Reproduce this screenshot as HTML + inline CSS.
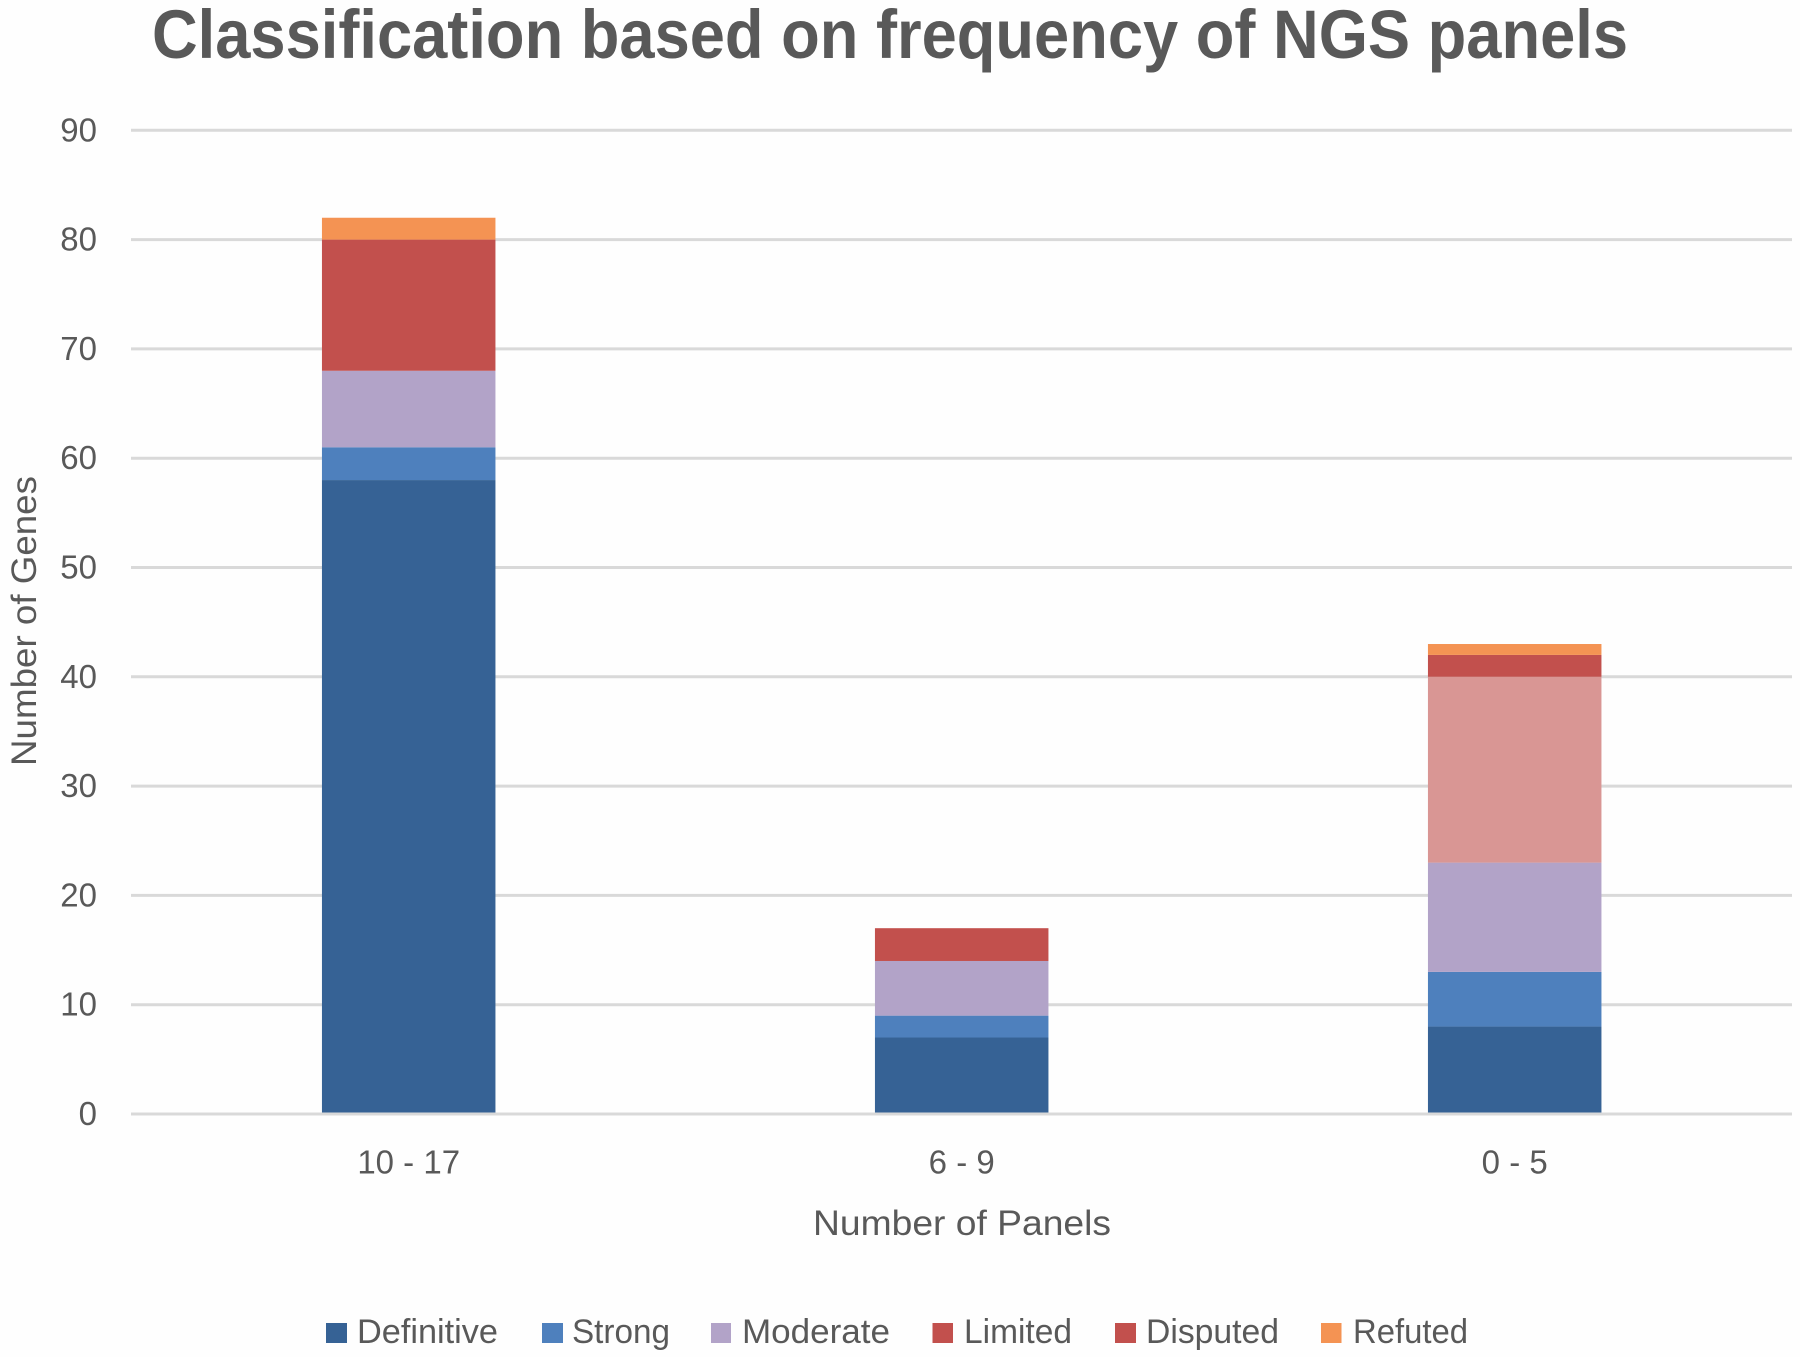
<!DOCTYPE html>
<html lang="en">
<head>
<meta charset="utf-8">
<title>Classification based on frequency of NGS panels</title>
<style>
  html, body { margin: 0; padding: 0; background: #fefefe; }
  svg { display: block; }
  text { font-family: "Liberation Sans", sans-serif; fill: #595959; }
</style>
</head>
<body>
<svg id="chart" xmlns="http://www.w3.org/2000/svg" width="1800" height="1357" viewBox="0 0 1800 1357">
  <rect x="0" y="0" width="1800" height="1357" fill="#fefefe"/>
  <text x="152" y="58" font-size="69" font-weight="700" textLength="1476" lengthAdjust="spacingAndGlyphs">Classification based on frequency of NGS panels</text>
  <g id="grid"></g>
  <g id="y-ticks"></g>
  <g id="bars"></g>
  <g id="baseline"></g>
  <g id="x-ticks"></g>
  <text x="813" y="1235" font-size="35" textLength="298" lengthAdjust="spacingAndGlyphs">Number of Panels</text>
  <text transform="translate(36,766) rotate(-90)" x="0" y="0" font-size="35" textLength="290" lengthAdjust="spacingAndGlyphs">Number of Genes</text>
  <g>
    <g>
      <rect x="326" y="1323" width="21" height="20" fill="#366295"/>
      <text x="357" y="1343" font-size="34" textLength="141" lengthAdjust="spacingAndGlyphs">Definitive</text>
    </g>
    <g>
      <rect x="542" y="1323" width="21" height="20" fill="#4e80bd"/>
      <text x="572" y="1343" font-size="34" textLength="98" lengthAdjust="spacingAndGlyphs">Strong</text>
    </g>
    <g>
      <rect x="711" y="1323" width="20" height="20" fill="#b2a3c8"/>
      <text x="742" y="1343" font-size="34" textLength="148" lengthAdjust="spacingAndGlyphs">Moderate</text>
    </g>
    <g>
      <rect x="932.5" y="1323" width="20.5" height="20" fill="#c2504d"/>
      <text x="964" y="1343" font-size="34" textLength="108" lengthAdjust="spacingAndGlyphs">Limited</text>
    </g>
    <g>
      <rect x="1115" y="1323" width="21" height="20" fill="#c2504d"/>
      <text x="1146" y="1343" font-size="34" textLength="133" lengthAdjust="spacingAndGlyphs">Disputed</text>
    </g>
    <g>
      <rect x="1321" y="1323" width="20.5" height="20" fill="#f49353"/>
      <text x="1353" y="1343" font-size="34" textLength="115" lengthAdjust="spacingAndGlyphs">Refuted</text>
    </g>
  </g>
</svg>
<script>
const categories = ['10 - 17', '6 - 9', '0 - 5'];
const yTickLabels = [0, 10, 20, 30, 40, 50, 60, 70, 80, 90];
const definitive = [58, 7, 8];
const strong = [3, 2, 5];
const moderate = [7, 5, 10];
const limited = [12, 3, 17];
const disputed = [0, 0, 2];
const refuted = [2, 0, 1];

const SVG_NS = 'http://www.w3.org/2000/svg';
const plotLeft = 131, plotRight = 1792, plotBottom = 1114, plotTop = 130.3;
const bandStart = 132.2, bandWidth = 553;
const yMax = 90, barWidth = 173.5;

function yScale(v) {
  return plotBottom - (v / yMax) * (plotBottom - plotTop);
}
function xCenter(i) {
  return bandStart + (i + 0.5) * bandWidth;
}

const seriesList = [
  { key: 'definitive', values: definitive, color: '#366295' },
  { key: 'strong', values: strong, color: '#4e80bd' },
  { key: 'moderate', values: moderate, color: '#b2a3c8' },
  { key: 'limited', values: limited, color: '#c2504d', colorByCategory: { '0 - 5': '#d99694' } },
  { key: 'disputed', values: disputed, color: '#c2504d' },
  { key: 'refuted', values: refuted, color: '#f49353' }
];

function drawLine(parent, y, name) {
  const line = document.createElementNS(SVG_NS, 'line');
  
  
  line.setAttribute('x1', plotLeft);
  line.setAttribute('x2', plotRight);
  line.setAttribute('y1', y);
  line.setAttribute('y2', y);
  line.setAttribute('stroke', '#d9d9d9');
  line.setAttribute('stroke-width', '3');
  parent.appendChild(line);
}

const grid = document.getElementById('grid');
const yTicks = document.getElementById('y-ticks');
yTickLabels.forEach(function (t) {
  drawLine(grid, yScale(t), 'gridline-' + t);
  const label = document.createElementNS(SVG_NS, 'text');
  
  
  label.setAttribute('x', 97);
  label.setAttribute('y', yScale(t) + 11);
  label.setAttribute('text-anchor', 'end');
  label.setAttribute('font-size', '33');
  label.textContent = String(t);
  yTicks.appendChild(label);
});

const bars = document.getElementById('bars');
categories.forEach(function (cat, i) {
  let cumulative = 0;
  seriesList.forEach(function (s) {
    const v = s.values[i];
    if (v <= 0) { return; }
    const top = yScale(cumulative + v);
    const bottom = yScale(cumulative);
    const rect = document.createElementNS(SVG_NS, 'rect');
    
    
    rect.setAttribute('x', xCenter(i) - barWidth / 2);
    rect.setAttribute('y', top);
    rect.setAttribute('width', barWidth);
    rect.setAttribute('height', bottom - top);
    rect.setAttribute('fill', (s.colorByCategory && s.colorByCategory[cat]) || s.color);
    bars.appendChild(rect);
    cumulative += v;
  });
});

drawLine(document.getElementById('baseline'), yScale(0), 'x-axis-line');

const xTicks = document.getElementById('x-ticks');
categories.forEach(function (cat, i) {
  const label = document.createElementNS(SVG_NS, 'text');
  
  
  label.setAttribute('x', xCenter(i));
  label.setAttribute('y', 1173.5);
  label.setAttribute('text-anchor', 'middle');
  label.setAttribute('font-size', '33');
  label.textContent = cat;
  xTicks.appendChild(label);
});
</script>
</body>
</html>
